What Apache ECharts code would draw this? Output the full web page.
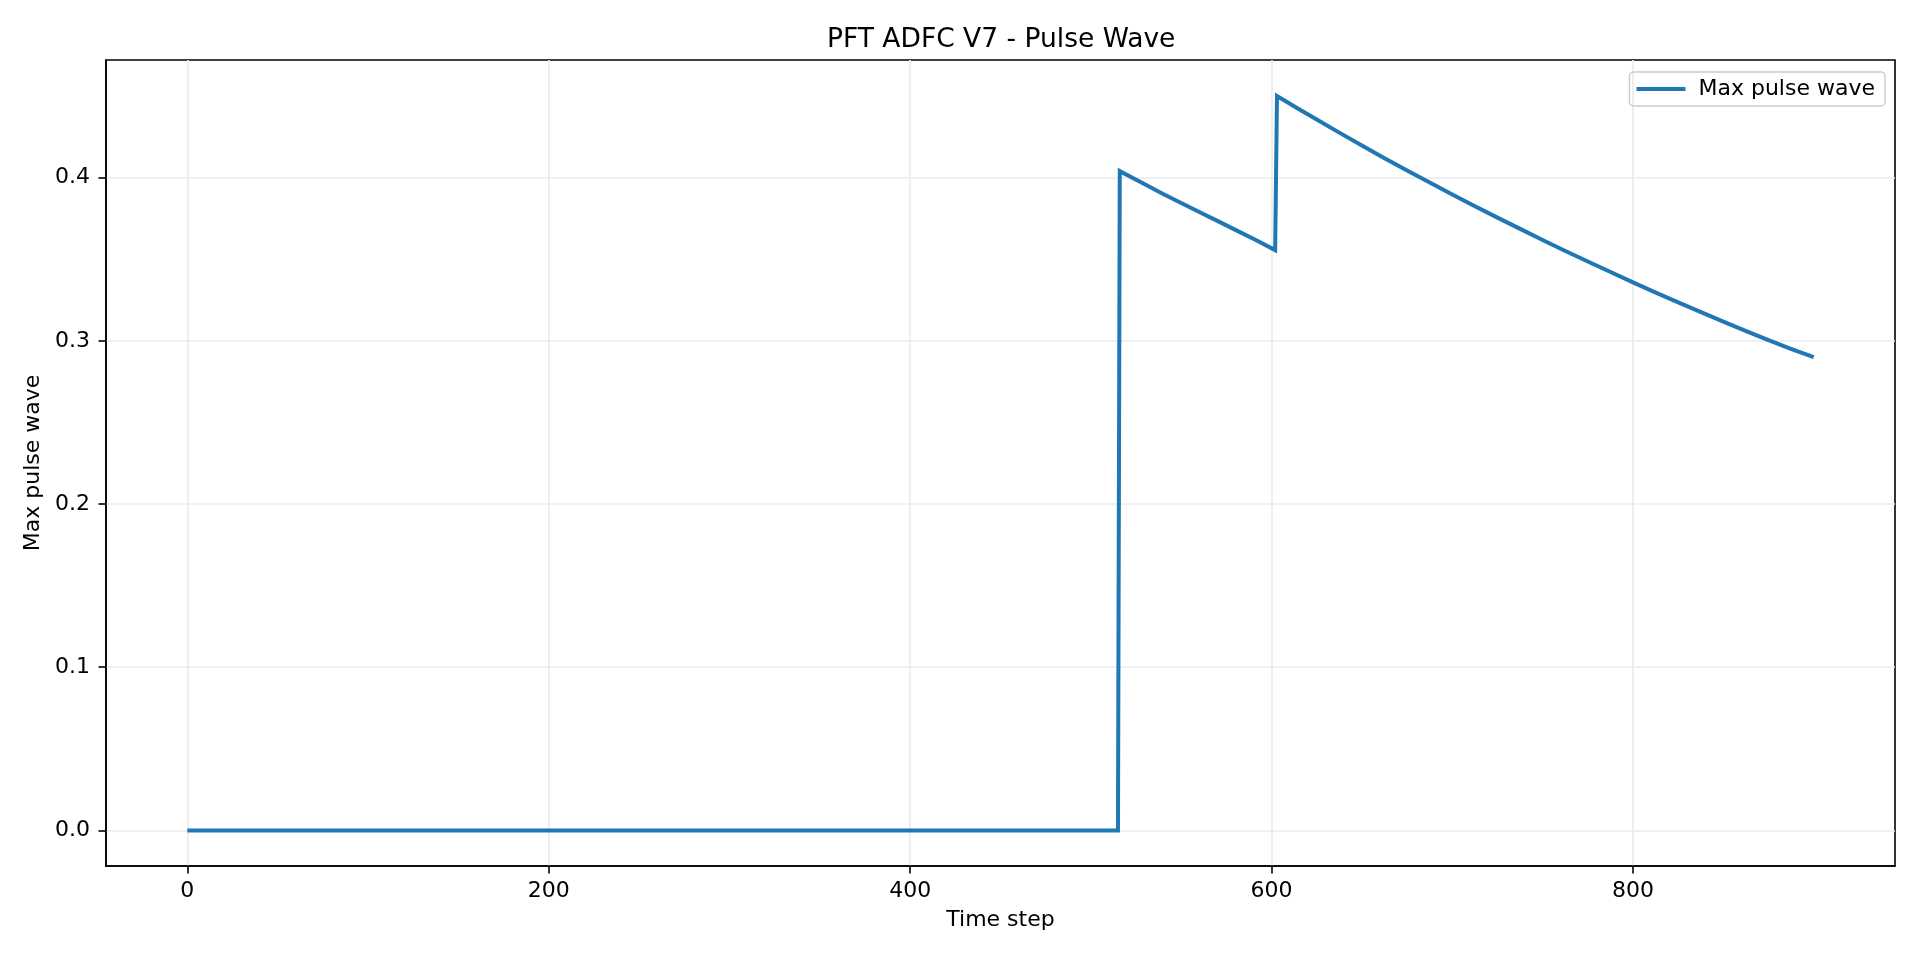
<!DOCTYPE html>
<html>
<head>
<meta charset="utf-8">
<script src="https://cdn.jsdelivr.net/npm/echarts@6/dist/echarts.min.js"></script>
<style>
  html, body { margin: 0; padding: 0; background: #fff; }
  #chart { width: 1920px; height: 960px; }
</style>
</head>
<body>
<div id="chart"></div>
<script>
// values
const timeSteps = [
  0, 515, 516, 528, 540, 550, 560, 570, 580, 591, 602,
  603, 615, 625, 637, 650, 662, 675, 687, 700, 712, 725, 737, 750,
  762, 775, 787, 800, 812, 825, 837, 850, 862, 875, 887, 900,
];
const pulseValues = [
  0, 0, 0.404, 0.397, 0.390, 0.3845, 0.379, 0.3735, 0.368, 0.362, 0.3556,
  0.450, 0.4421, 0.4356, 0.4279, 0.4197, 0.4122, 0.4044, 0.3973, 0.3897, 0.3828, 0.3755, 0.3689, 0.3618,
  0.3554, 0.3486, 0.3425, 0.3358, 0.3299, 0.3236, 0.3179, 0.3118, 0.3063, 0.3005, 0.2952, 0.2900,
];
const xTicks = [0, 200, 400, 600, 800];
const yTicks = [0.0, 0.1, 0.2, 0.3, 0.4];

const font = "DejaVu Sans";
const points = timeSteps.map((t, i) => [t, pulseValues[i]]);

const chart = echarts.init(document.getElementById("chart"));
chart.setOption({
  animation: false,
  backgroundColor: "#fff",
  title: {
    text: "PFT ADFC V7 - Pulse Wave",
    // placed so it sits centred over the plot area, not the page
    left: 822,
    top: 22,
    textStyle: { fontFamily: font, fontSize: 26.5, fontWeight: "normal", color: "#000" },
  },
  legend: {
    right: 35,
    top: 72,
    padding: [6, 10, 6, 7],
    itemGap: 10,
    itemWidth: 49,
    itemHeight: 4,
    icon: "rect",
    borderColor: "#cccccc",
    borderWidth: 1.5,
    borderRadius: 4,
    textStyle: { fontFamily: font, fontSize: 22, color: "#000", padding: [0, 0, 0, 8] },
    data: ["Max pulse wave"],
  },
  grid: {
    left: 106,
    right: 25,
    top: 60,
    bottom: 94,
    show: true,
    borderColor: "#000",
    borderWidth: 1.6,
  },
  xAxis: {
    type: "value",
    min: -45,
    max: 945,
    name: "Time step",
    nameLocation: "middle",
    nameGap: 43,
    nameTextStyle: { fontFamily: font, fontSize: 22, color: "#000" },
    axisLine: { show: true, onZero: false, lineStyle: { color: "#000", width: 1.6 } },
    axisTick: { show: true, length: 7.5, customValues: xTicks, lineStyle: { color: "#000", width: 1.6 } },
    axisLabel: { customValues: xTicks, margin: 14, fontFamily: font, fontSize: 22, color: "#000" },
    splitLine: { show: true, lineStyle: { color: "#ebebeb", width: 1.7 } },
  },
  yAxis: {
    type: "value",
    min: -0.0218,
    max: 0.4721,
    name: "Max pulse wave",
    nameLocation: "middle",
    nameGap: 61,
    nameTextStyle: { fontFamily: font, fontSize: 22, color: "#000" },
    axisLine: { show: true, onZero: false, lineStyle: { color: "#000", width: 1.6 } },
    axisTick: { show: true, length: 7.5, customValues: yTicks, lineStyle: { color: "#000", width: 1.6 } },
    axisLabel: {
      customValues: yTicks,
      margin: 16,
      fontFamily: font,
      fontSize: 22,
      color: "#000",
      formatter: (v) => v.toFixed(1),
    },
    splitLine: { show: true, lineStyle: { color: "#ebebeb", width: 1.7 } },
  },
  series: [
    {
      name: "Max pulse wave",
      type: "line",
      data: points,
      showSymbol: false,
      symbol: "none",
      color: "#1f77b4",
      lineStyle: { color: "#1f77b4", width: 4, join: "miter" },
    },
  ],
});
</script>
</body>
</html>
